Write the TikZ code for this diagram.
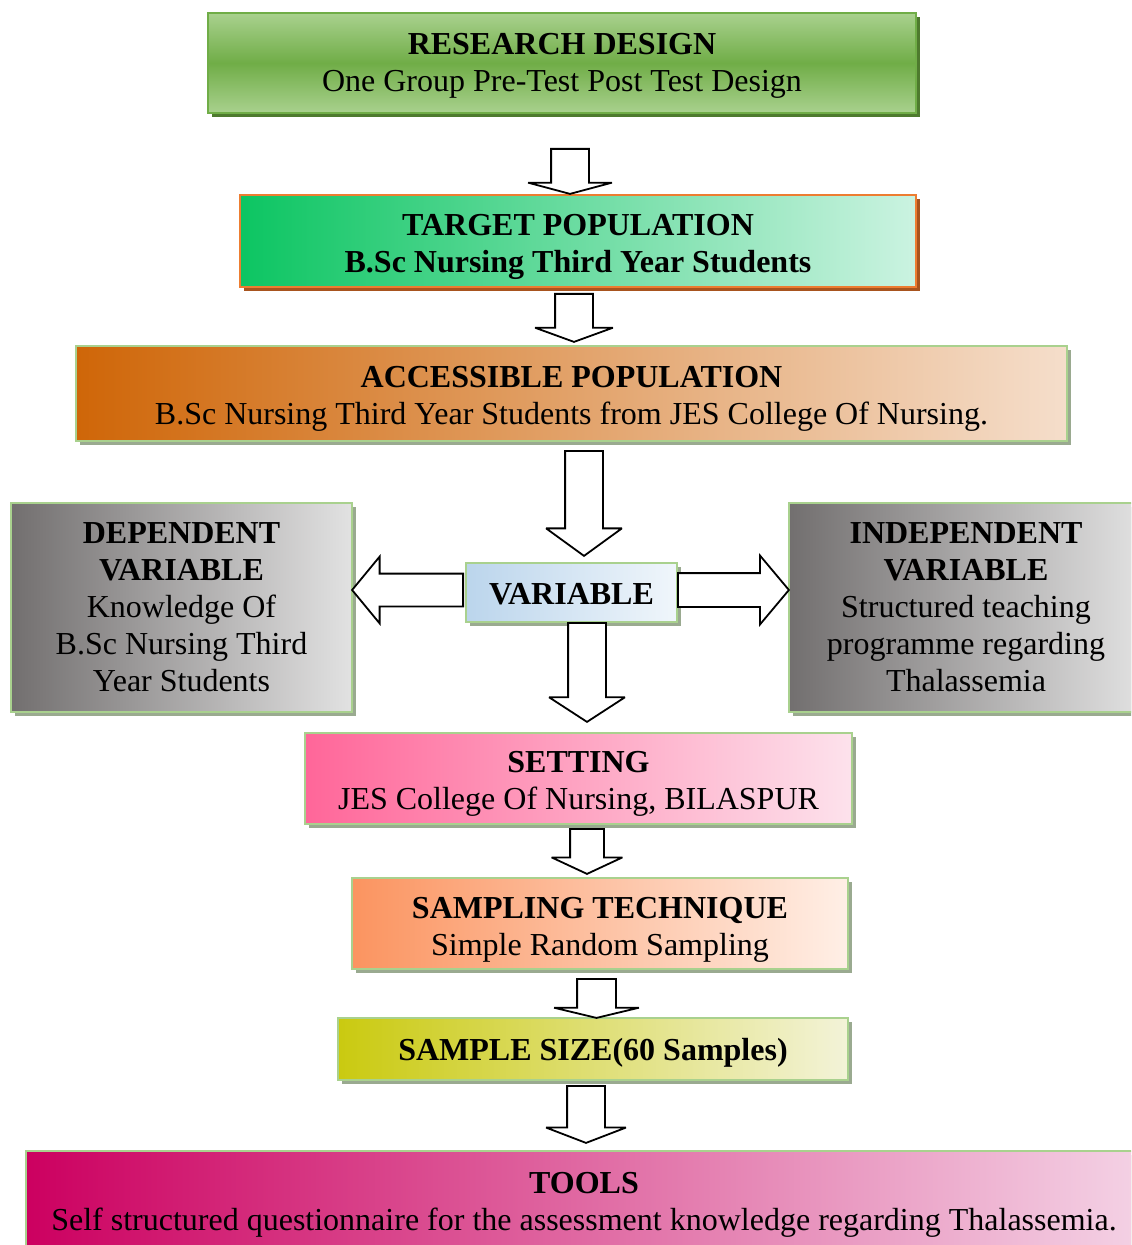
\documentclass[tikz,border=0pt]{standalone}
\usepackage{fontspec}
\setmainfont{Liberation Serif}
\usepackage{tikz}
\usetikzlibrary{shapes.arrows, shadows}
\definecolor{rdgreen}{HTML}{70AD47}
\definecolor{rdlight}{HTML}{A9D18E}
\definecolor{rdshadow}{HTML}{4E7A2E}
\definecolor{edgegreen}{HTML}{A9D18E}
\definecolor{boxshadow}{HTML}{9AAA90}
\definecolor{tporange}{HTML}{ED7D31}
\definecolor{tpshadow}{HTML}{A8541E}
\definecolor{tpleft}{HTML}{0CC562}
\definecolor{tpright}{HTML}{CBF3E1}
\definecolor{apleft}{HTML}{CF6608}
\definecolor{apright}{HTML}{F5DECB}
\definecolor{varleft}{HTML}{726F6F}
\definecolor{varright}{HTML}{E2E2E2}
\definecolor{vbleft}{HTML}{BBD5EC}
\definecolor{vbright}{HTML}{F0F6FB}
\definecolor{setleft}{HTML}{FF6699}
\definecolor{setright}{HTML}{FDE2EC}
\definecolor{smpleft}{HTML}{FB9460}
\definecolor{smpright}{HTML}{FFEFE6}
\definecolor{szleft}{HTML}{CACA10}
\definecolor{szright}{HTML}{F3F3D8}
\definecolor{tlleft}{HTML}{CC0060}
\definecolor{tlright}{HTML}{F4D2E5}
\newcommand{\headstrut}[1]{\rule{0pt}{#1}}

\begin{document}
\begin{tikzpicture}[x=0.5pt, y=-0.5pt,
  font=\fontsize{16}{18.5}\selectfont,
  stage/.style = {rectangle, draw=edgegreen, line width=1pt, inner sep=0pt, align=center,
    drop shadow={shadow xshift=2pt, shadow yshift=-2pt, fill=boxshadow, opacity=1}},
  flow/.style = {single arrow, draw=black, fill=white, line width=0.9pt, miter limit=3,
    inner xsep=0pt, single arrow head indent=0pt, anchor=tail},
  down/.style = {flow, rotate=-90}]
  \path[use as bounding box, clip] (0,0) rectangle (1131,1245);
  \node[stage, draw=rdgreen, top color=rdlight, bottom color=rdlight, middle color=rdgreen,
    drop shadow={shadow xshift=2pt, shadow yshift=-2pt, fill=rdshadow, opacity=1},
    minimum width=354pt, minimum height=50pt] (rd) at (562,63)
    {\headstrut{13pt}\textbf{RESEARCH DESIGN}\\One Group Pre-Test Post Test Design};
  \node[stage, draw=tporange, left color=tpleft, right color=tpright,
    drop shadow={shadow xshift=2pt, shadow yshift=-2pt, fill=tpshadow, opacity=1},
    minimum width=338pt, minimum height=46pt] (tp) at (578,241)
    {\headstrut{17pt}\textbf{TARGET POPULATION}\\\textbf{B.Sc Nursing Third Year Students}};
  \node[stage, left color=apleft, right color=apright, minimum width=495.5pt, minimum height=47.5pt] (ap) at (571.5,393.5)
    {\headstrut{16pt}\textbf{ACCESSIBLE POPULATION}\\B.Sc Nursing Third Year Students from JES College Of Nursing.};
  \node[stage, left color=varleft, right color=varright, minimum width=170.5pt, minimum height=104.5pt] (dep) at (181.5,607.5)
    {\textbf{DEPENDENT}\\\textbf{VARIABLE}\\Knowledge Of\\B.Sc Nursing Third\\Year Students};
  \node[stage, left color=vbleft, right color=vbright, minimum width=105.5pt, minimum height=29.5pt] (var) at (571.5,592.5)
    {\headstrut{12.6pt}\textbf{VARIABLE}};
  \node[stage, left color=varleft, right color=varright, minimum width=177pt, minimum height=104.5pt] (indep) at (966,607.5)
    {\textbf{INDEPENDENT}\\\textbf{VARIABLE}\\Structured teaching\\programme regarding\\Thalassemia};
  \node[stage, left color=setleft, right color=setright, minimum width=273.5pt, minimum height=45.5pt] (set) at (578.5,778.5)
    {\headstrut{16pt}\textbf{SETTING}\\JES College Of Nursing, BILASPUR};
  \node[stage, left color=smpleft, right color=smpright, minimum width=248pt, minimum height=45.5pt] (smp) at (600,923.5)
    {\headstrut{17pt}\textbf{SAMPLING TECHNIQUE}\\Simple Random Sampling};
  \node[stage, left color=szleft, right color=szright, minimum width=255pt, minimum height=31pt] (size) at (593,1049)
    {\headstrut{15pt}\textbf{SAMPLE SIZE(60 Samples)}};
  \node[stage, left color=tlleft, right color=tlright, minimum width=558pt, minimum height=49pt] (tools) at (584,1200)
    {\headstrut{15pt}\textbf{TOOLS}\\Self structured questionnaire for the assessment knowledge regarding Thalassemia.};
  \node[down, minimum height=22.5pt, inner ysep=9pt, single arrow head extend=11.5pt, single arrow tip angle=150] (a1) at (570,148) {};
  \node[down, minimum height=24pt, inner ysep=9pt, single arrow head extend=10pt, single arrow tip angle=140] (a2) at (574,293) {};
  \node[down, minimum height=52.5pt, inner ysep=9pt, single arrow head extend=9.5pt, single arrow tip angle=108] (a3) at (584,450) {};
  \node[down, minimum height=49.5pt, inner ysep=9pt, single arrow head extend=9.5pt, single arrow tip angle=114] (a4) at (587,622) {};
  \node[flow, rotate=180, minimum height=55.5pt, inner ysep=7.75pt, single arrow head extend=8.5pt, single arrow tip angle=101] (a5) at (464,590) {};
  \node[flow, minimum height=55.5pt, inner ysep=8pt, single arrow head extend=8.75pt, single arrow tip angle=100] (a6) at (677,590) {};
  \node[down, minimum height=22.5pt, inner ysep=8pt, single arrow head extend=9.25pt, single arrow tip angle=130] (a7) at (587,828) {};
  \node[down, minimum height=19.5pt, inner ysep=9.25pt, single arrow head extend=11.5pt, single arrow tip angle=153] (a8) at (596.5,978) {};
  \node[down, minimum height=28.5pt, inner ysep=9pt, single arrow head extend=10.5pt, single arrow tip angle=138] (a9) at (586,1085) {};
\end{tikzpicture}
\end{document}
